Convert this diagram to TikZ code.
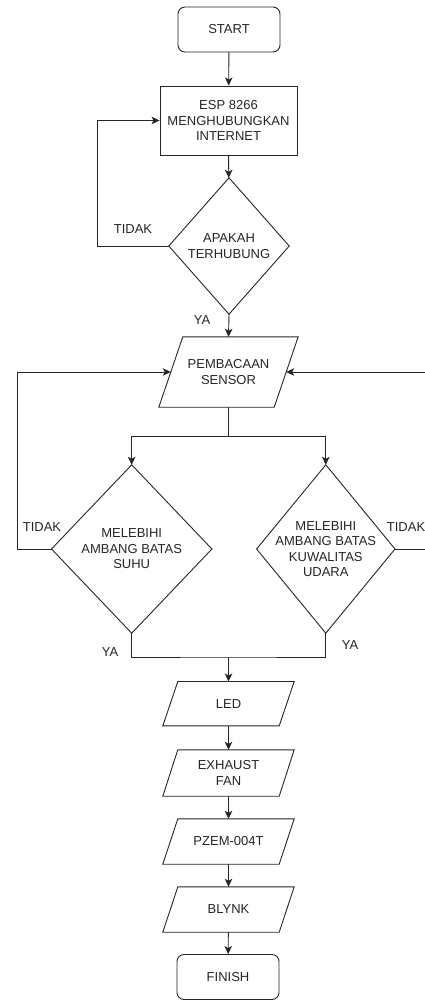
\documentclass[tikz,border=0pt]{standalone}
\usepackage{fontspec}
\setmainfont{Liberation Sans}
\usetikzlibrary{arrows.meta,calc}
\newcommand\drawpara[2]{\draw[shp] ($(#1.north west)+(#2,0)$) -- (#1.north east) -- ($(#1.south east)-(#2,0)$) -- (#1.south west) -- cycle;}
\newcommand\drawdia[1]{\draw[shp] (#1.north) -- (#1.east) -- (#1.south) -- (#1.west) -- cycle;}
\begin{document}
\begin{tikzpicture}[x=1pt,y=-1pt,
  txt/.style={font=\fontsize{13}{15.5}\selectfont, text=black!85, align=center, inner sep=0pt},
  shp/.style={line width=0.9pt, draw=black!85},
  term/.style={txt, shp, draw, rounded corners=7pt, minimum width=102pt, minimum height=45pt},
  procbox/.style={txt, shp, draw, minimum width=137pt, minimum height=69pt},
  hold/.style={txt, draw=none, minimum width=#1},
  lbl/.style={txt},
  ln/.style={line width=0.9pt, draw=black!85},
  arr/.style={ln, -{Stealth[length=8pt,width=7.5pt,inset=2pt]}}]
\useasboundingbox (0,0) rectangle (424,1000);
\fill[white] (0,0) rectangle (424,1000);

\node[term] (start) at (229,29.5) {START};
\node[procbox] (esp) at (228.5,120.5) {ESP 8266\\MENGHUBUNGKAN\\INTERNET};
\node[hold=120pt, minimum height=136pt] (d1) at (229,246) {APAKAH\\TERHUBUNG};
\drawdia{d1}
\node[hold=139pt, minimum height=70pt] (p) at (228.5,372) {PEMBACAAN\\SENSOR};
\drawpara{p}{24}
\node[hold=160pt, minimum height=168pt] (d2) at (131.7,549) {MELEBIHI\\AMBANG BATAS\\SUHU};
\drawdia{d2}
\node[hold=138pt, minimum height=168pt] (d3) at (325.8,549) {MELEBIHI\\AMBANG BATAS\\KUWALITAS\\UDARA};
\drawdia{d3}
\node[hold=131pt, minimum height=44pt] (led) at (228.5,703.7) {LED};
\drawpara{led}{15}
\node[hold=131pt, minimum height=46pt] (fan) at (228.5,773) {EXHAUST\\FAN};
\drawpara{fan}{15}
\node[hold=131pt, minimum height=45pt] (pzem) at (228.5,841.5) {PZEM-004T};
\drawpara{pzem}{15}
\node[hold=131pt, minimum height=45pt] (blynk) at (228.5,909.5) {BLYNK};
\drawpara{blynk}{15}
\node[term] (finish) at (228,977) {FINISH};

\coordinate (pl) at ($(p.west)+(12,0)$);
\coordinate (pr) at ($(p.east)-(12,0)$);
\coordinate (split) at (228.5,436);
\coordinate (merge) at (228.5,657);
\coordinate (l1) at (97,246);
\coordinate (l2) at (17,549);
\coordinate (r2) at (430,549);

\draw[arr] (start) -- (esp);
\draw[arr] (esp) -- (d1);
\draw[arr] (d1.west) -- (l1) |- (esp.west);
\draw[arr] (d1.south) -- (p.north);
\draw[ln] (p.south) -- (split);
\draw[arr] (split) -| (d2.north);
\draw[arr] (split) -| (d3.north);
\draw[arr] (d2.west) -- (l2) |- (pl);
\draw[arr] (d3.east) -- (r2) |- (pr);
\draw[ln] (d2.south) |- (merge) -| (d3.south);
\draw[arr] (merge) -- (led.north);
\draw[arr] (led) -- (fan);
\draw[arr] (fan) -- (pzem);
\draw[arr] (pzem) -- (blynk);
\draw[arr] (blynk) -- (finish);

\node[lbl] (t1) at (133,229) {TIDAK};
\node[lbl] (y1) at (202,320) {YA};
\node[lbl] (t2) at (42,527) {TIDAK};
\node[lbl, anchor=west] (t3) at (386.7,527) {TIDAK};
\node[lbl] (y2) at (110,652) {YA};
\node[lbl] (y3) at (350,645) {YA};
\end{tikzpicture}
\end{document}
